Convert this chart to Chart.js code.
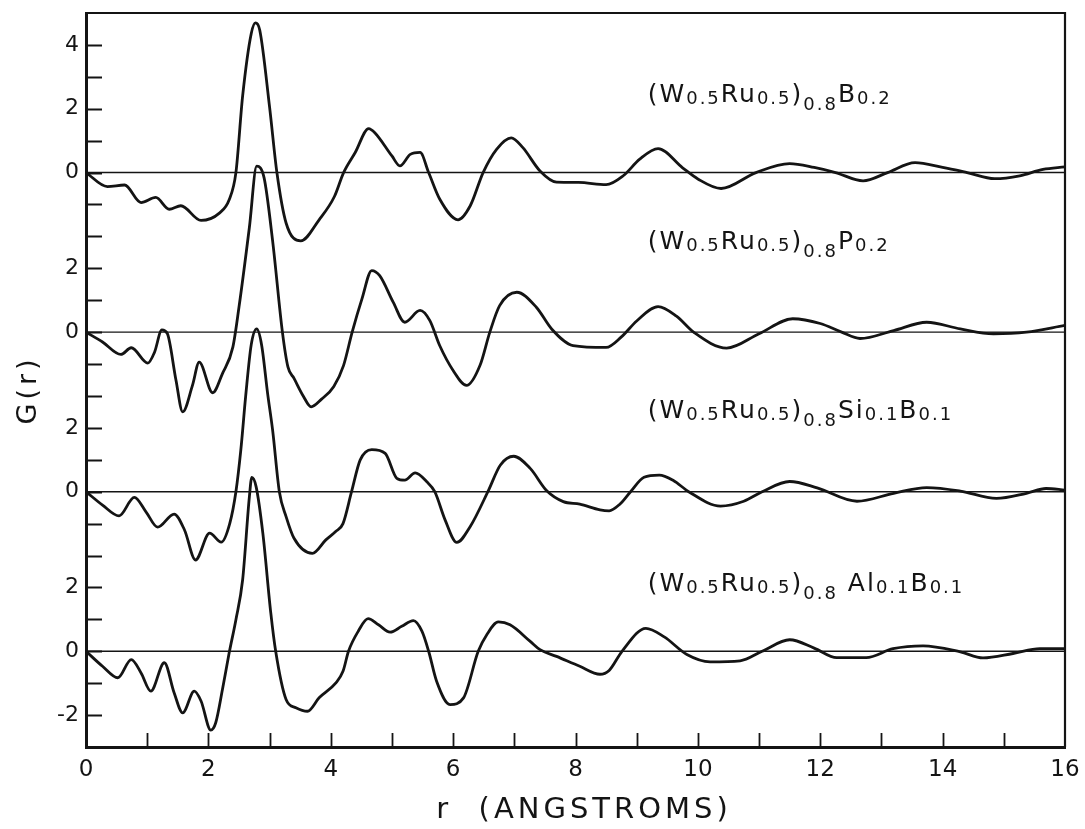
<!DOCTYPE html>
<html>
<head>
<meta charset="utf-8">
<script src="https://cdn.jsdelivr.net/npm/chart.js@4.4.1/dist/chart.umd.min.js"></script>
<style>
  html, body { margin: 0; padding: 0; background: #fff; }
  #wrap { width: 1085px; height: 829px; position: relative; }
</style>
</head>
<body>
<div id="wrap"><canvas id="gr"></canvas></div>
<script>
// G(r), one pair of arrays per alloy (r in angstroms, G local to each curve)
const rB = [0, 0.35, 0.63, 0.9, 1.14, 1.36, 1.55, 1.88, 2.18, 2.34, 2.45, 2.56, 2.70, 2.77, 2.84, 3.0, 3.12, 3.27, 3.51, 3.81, 4.06, 4.21, 4.4, 4.62, 4.72, 5.0, 5.13, 5.3, 5.46, 5.6, 5.78, 6.08, 6.28, 6.49, 6.71, 6.95, 7.14, 7.42, 7.69, 8.05, 8.5, 8.78, 9.05, 9.35, 9.75, 10.0, 10.38, 10.95, 11.5, 11.9, 12.25, 12.7, 13.1, 13.55, 14.0, 14.4, 14.85, 15.26, 15.64, 16.0];
const gB = [0, -0.44, -0.39, -0.94, -0.78, -1.15, -1.04, -1.5, -1.27, -0.85, 0, 2.4, 4.35, 4.69, 4.46, 2.06, 0, -1.58, -2.14, -1.48, -0.75, 0, 0.63, 1.38, 1.25, 0.52, 0.21, 0.57, 0.63, 0, -0.83, -1.48, -1.04, 0, 0.73, 1.09, 0.78, 0.05, -0.3, -0.31, -0.38, -0.1, 0.42, 0.75, 0.15, -0.2, -0.5, 0, 0.28, 0.16, 0, -0.26, 0, 0.31, 0.16, 0, -0.19, -0.1, 0.1, 0.18];

const rP = [0, 0.27, 0.57, 0.74, 1.01, 1.12, 1.24, 1.33, 1.47, 1.58, 1.74, 1.85, 2.07, 2.23, 2.4, 2.5, 2.67, 2.79, 2.91, 3.05, 3.21, 3.3, 3.4, 3.55, 3.68, 3.85, 4.05, 4.21, 4.35, 4.51, 4.67, 4.8, 5.02, 5.21, 5.46, 5.62, 5.78, 6.0, 6.22, 6.44, 6.6, 6.76, 7.04, 7.36, 7.61, 7.96, 8.5, 8.75, 9.0, 9.35, 9.65, 9.93, 10.47, 11.0, 11.55, 12.0, 12.35, 12.65, 13.2, 13.74, 14.29, 14.83, 15.37, 16.0];
const gP = [0, -0.31, -0.7, -0.49, -0.97, -0.63, 0.07, -0.05, -1.5, -2.5, -1.67, -0.94, -1.9, -1.3, -0.47, 0.78, 3.28, 5.2, 4.84, 2.86, 0, -1.09, -1.45, -2.0, -2.34, -2.1, -1.7, -1.04, 0, 1.04, 1.93, 1.77, 0.94, 0.31, 0.68, 0.36, -0.42, -1.2, -1.67, -1.04, 0, 0.83, 1.25, 0.78, 0.1, -0.42, -0.48, -0.15, 0.35, 0.8, 0.5, 0, -0.5, -0.05, 0.42, 0.27, 0, -0.2, 0.05, 0.31, 0.1, -0.05, 0, 0.21];

const rSi = [0, 0.27, 0.54, 0.79, 0.98, 1.17, 1.44, 1.61, 1.79, 2.02, 2.21, 2.35, 2.45, 2.53, 2.61, 2.7, 2.79, 2.87, 2.97, 3.05, 3.16, 3.27, 3.4, 3.7, 3.92, 4.08, 4.2, 4.34, 4.48, 4.67, 4.89, 5.08, 5.21, 5.38, 5.57, 5.7, 5.87, 6.06, 6.28, 6.58, 6.77, 6.99, 7.26, 7.53, 7.8, 8.07, 8.4, 8.55, 8.72, 8.9, 9.12, 9.37, 9.6, 9.85, 10.37, 10.75, 11.05, 11.5, 11.95, 12.6, 13.2, 13.74, 14.29, 14.88, 15.37, 15.69, 16.0];
const gSi = [0, -0.42, -0.76, -0.18, -0.63, -1.11, -0.7, -1.2, -2.14, -1.3, -1.58, -0.99, 0, 1.3, 3.0, 4.6, 5.1, 4.6, 3.05, 1.93, 0, -0.78, -1.46, -1.93, -1.51, -1.25, -1.0, 0, 0.99, 1.32, 1.2, 0.42, 0.36, 0.59, 0.31, 0, -0.89, -1.59, -1.09, 0.05, 0.83, 1.11, 0.73, 0.03, -0.31, -0.39, -0.57, -0.6, -0.4, 0, 0.45, 0.52, 0.35, 0, -0.45, -0.3, 0, 0.32, 0.12, -0.3, -0.05, 0.13, 0.02, -0.21, -0.05, 0.1, 0.05];

const rAl = [0, 0.27, 0.52, 0.74, 0.9, 1.06, 1.28, 1.44, 1.58, 1.77, 1.88, 2.04, 2.12, 2.23, 2.34, 2.45, 2.56, 2.67, 2.71, 2.78, 2.89, 3.02, 3.1, 3.27, 3.43, 3.62, 3.81, 4.08, 4.2, 4.29, 4.45, 4.61, 4.78, 4.97, 5.16, 5.35, 5.49, 5.6, 5.73, 5.95, 6.17, 6.41, 6.55, 6.74, 6.93, 7.26, 7.42, 7.69, 8.07, 8.4, 8.55, 8.76, 9.15, 9.45, 9.82, 10.2, 10.69, 11.05, 11.5, 11.9, 12.27, 12.75, 13.19, 13.68, 14.29, 14.66, 15.15, 15.59, 16.0];
const gAl = [0, -0.47, -0.83, -0.26, -0.68, -1.25, -0.36, -1.3, -1.93, -1.25, -1.56, -2.47, -2.24, -1.2, -0.05, 0.99, 2.24, 4.84, 5.45, 5.16, 3.7, 1.2, 0, -1.51, -1.77, -1.88, -1.46, -1.0, -0.63, 0, 0.63, 1.02, 0.83, 0.6, 0.78, 0.96, 0.63, 0, -0.94, -1.67, -1.46, 0, 0.52, 0.92, 0.83, 0.31, 0.05, -0.16, -0.47, -0.72, -0.6, 0, 0.72, 0.45, -0.1, -0.33, -0.3, 0, 0.36, 0.1, -0.2, -0.2, 0.08, 0.17, -0.02, -0.21, -0.07, 0.08, 0.08];

// each curve is shifted up by this many G units
const offsets = [15, 10, 5, 0];

// y tick labels: shifted axis value -> printed local value
const yTickValues = [19, 17, 15, 12, 10, 7, 5, 2, 0, -2];
const yTickText = ['4', '2', '0', '2', '0', '2', '0', '2', '0', '-2'];

// curve names as [text, kind] pieces: 0 normal, 1 subscript, 2 low subscript
const curveLabels = [
    [['(W', 0], ['0.5', 1], ['Ru', 0], ['0.5', 1], [')', 0], ['0.8', 2], ['B', 0], ['0.2', 1]],
    [['(W', 0], ['0.5', 1], ['Ru', 0], ['0.5', 1], [')', 0], ['0.8', 2], ['P', 0], ['0.2', 1]],
    [['(W', 0], ['0.5', 1], ['Ru', 0], ['0.5', 1], [')', 0], ['0.8', 2], ['Si', 0], ['0.1', 1], ['B', 0], ['0.1', 1]],
    [['(W', 0], ['0.5', 1], ['Ru', 0], ['0.5', 1], [')', 0], ['0.8', 2], [' Al', 0], ['0.1', 1], ['B', 0], ['0.1', 1]]
];
const xTitle = 'r  (ANGSTROMS)';
const yTitle = 'G(r)';

const curves = [[rB, gB], [rP, gP], [rSi, gSi], [rAl, gAl]];
const INK = '#141414';
const FONT = "'DejaVu Sans', sans-serif";

const datasets = [];
offsets.forEach(off => {
    datasets.push({
        data: [{x: 0, y: off}, {x: 16, y: off}],
        borderColor: INK,
        borderWidth: 1.4,
        pointRadius: 0,
        tension: 0
    });
});
curves.forEach(([r, g], i) => {
    datasets.push({
        data: r.map((v, k) => ({x: v, y: g[k] + offsets[i]})),
        borderColor: INK,
        borderWidth: 2.8,
        pointRadius: 0,
        cubicInterpolationMode: 'monotone'
    });
});

// frame on top/right, inward ticks, curve names and the letter-spaced axis titles
const framePlugin = {
    id: 'frame',
    afterDatasetsDraw(chart) {
        const {ctx, chartArea: a, scales: {x, y}} = chart;
        ctx.save();
        ctx.strokeStyle = INK;
        ctx.lineWidth = 2.2;
        ctx.beginPath();
        ctx.moveTo(a.left, a.top);
        ctx.lineTo(a.right, a.top);
        ctx.lineTo(a.right, a.bottom);
        ctx.stroke();

        ctx.lineWidth = 1.8;
        ctx.beginPath();
        for (let v = -2; v <= 19; v++) {
            const py = Math.round(y.getPixelForValue(v)) + 0.5;
            ctx.moveTo(a.left, py);
            ctx.lineTo(a.left + 16, py);
        }
        for (let v = 1; v <= 15; v++) {
            const px = Math.round(x.getPixelForValue(v)) + 0.5;
            ctx.moveTo(px, a.bottom);
            ctx.lineTo(px, a.bottom - 14);
        }
        ctx.stroke();

        const spaced = 'letterSpacing' in ctx;
        // names sit at r = 9.18, a bit above each baseline
        const lift = [2.2, 2.6, 2.3, 1.9];
        ctx.fillStyle = INK;
        ctx.textBaseline = 'alphabetic';
        if (spaced) ctx.letterSpacing = '2px';
        curveLabels.forEach((parts, i) => {
            let px = x.getPixelForValue(9.18);
            const base = y.getPixelForValue(offsets[i] + lift[i]);
            parts.forEach(([t, kind]) => {
                ctx.font = (kind ? '18px ' : '25px ') + FONT;
                const dy = kind === 2 ? 8 : kind === 1 ? 2 : 0;
                ctx.fillText(t, px, base + dy);
                px += ctx.measureText(t).width;
            });
        });

        ctx.textAlign = 'center';
        ctx.textBaseline = 'middle';
        ctx.font = '29px ' + FONT;
        if (spaced) ctx.letterSpacing = '4px';
        ctx.fillText(xTitle, 584, 810);
        ctx.font = '27px ' + FONT;
        ctx.translate(29, 390);
        ctx.rotate(-Math.PI / 2);
        ctx.fillText(yTitle, 0, 0);
        ctx.restore();
    }
};

new Chart(document.getElementById('gr'), {
    type: 'line',
    data: {datasets: datasets},
    plugins: [framePlugin],
    options: {
        responsive: true,
        maintainAspectRatio: false,
        animation: false,
        layout: {padding: {top: 13, right: 20, left: 0, bottom: 0}},
        plugins: {legend: {display: false}, tooltip: {enabled: false}},
        scales: {
            x: {
                type: 'linear',
                min: 0,
                max: 16,
                afterFit: s => { s.height = 82; s.paddingLeft = 0; s.paddingRight = 0; },
                grid: {display: false, drawTicks: false},
                border: {display: true, color: INK, width: 3},
                ticks: {
                    stepSize: 2,
                    padding: 9,
                    color: INK,
                    font: {family: FONT, size: 23}
                }
            },
            y: {
                type: 'linear',
                min: -3,
                max: 20,
                afterFit: s => { s.width = 86; s.paddingTop = 0; s.paddingBottom = 0; },
                grid: {display: false, drawTicks: false},
                border: {display: true, color: INK, width: 3},
                ticks: {
                    stepSize: 1,
                    autoSkip: false,
                    padding: 7,
                    color: INK,
                    font: {family: FONT, size: 22},
                    callback: v => {
                        const k = yTickValues.indexOf(v);
                        return k >= 0 ? yTickText[k] : '';
                    }
                }
            }
        }
    }
});
</script>
</body>
</html>
